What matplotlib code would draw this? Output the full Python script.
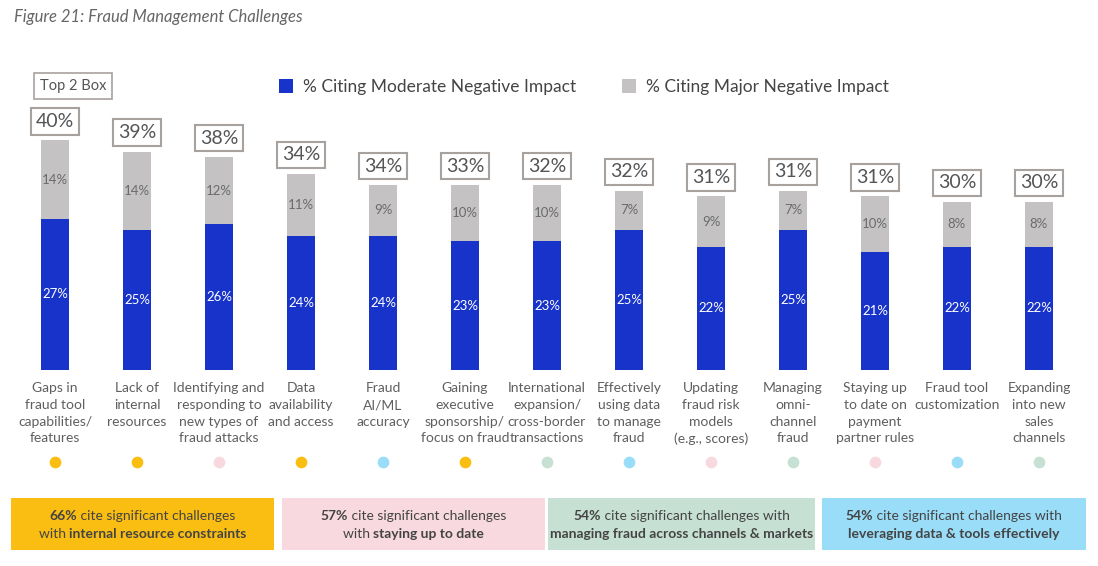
import matplotlib
matplotlib.use('Agg')
import matplotlib.pyplot as plt
from matplotlib.patches import Rectangle

plt.rcParams['font.family'] = ['Lato', 'DejaVu Sans']

# --- Data ---
categories = [
    'Gaps in\nfraud tool\ncapabilities/\nfeatures',
    'Lack of\ninternal\nresources',
    'Identifying and\nresponding to\nnew types of\nfraud attacks',
    'Data\navailability\nand access',
    'Fraud\nAI/ML\naccuracy',
    'Gaining\nexecutive\nsponsorship/\nfocus on fraud',
    'International\nexpansion/\ncross-border\ntransactions',
    'Effectively\nusing data\nto manage\nfraud',
    'Updating\nfraud risk\nmodels\n(e.g., scores)',
    'Managing\nomni-\nchannel\nfraud',
    'Staying up\nto date on\npayment\npartner rules',
    'Fraud tool\ncustomization',
    'Expanding\ninto new\nsales\nchannels',
]
moderate = [27, 25, 26, 24, 24, 23, 23, 25, 22, 25, 21, 22, 22]
major = [14, 14, 12, 11, 9, 10, 10, 7, 9, 7, 10, 8, 8]
top2 = [40, 39, 38, 34, 34, 33, 32, 32, 31, 31, 31, 30, 30]
theme = ['resource', 'resource', 'date', 'resource', 'data', 'resource', 'channel',
         'data', 'date', 'channel', 'date', 'data', 'channel']

theme_colors = {'resource': '#FABD12', 'date': '#F7D9DF', 'channel': '#C6E0D3', 'data': '#9ADDF8'}
summary = [
    ('resource', [[('66%', True), (' cite significant challenges', False)],
                  [('with ', False), ('internal resource constraints', True)]]),
    ('date', [[('57%', True), (' cite significant challenges', False)],
              [('with ', False), ('staying up to date', True)]]),
    ('channel', [[('54%', True), (' cite significant challenges with', False)],
                 [('managing fraud across channels & markets', True)]]),
    ('data', [[('54%', True), (' cite significant challenges with', False)],
              [('leveraging data & tools effectively', True)]]),
]

BLUE = '#1733C9'
GREY = '#C4C2C2'
TXT = '#5f5f5f'

W, H = 1098, 566
fig = plt.figure(figsize=(W / 100, H / 100), dpi=100)
ax = fig.add_axes([14 / W, 1 - 370 / H, 1066 / W, 252 / H])

x = list(range(len(categories)))
bw = 0.33
ax.bar(x, moderate, width=bw, color=BLUE, label='% Citing Moderate Negative Impact')
ax.bar(x, major, width=bw, bottom=moderate, color=GREY, label='% Citing Major Negative Impact')

for i in x:
    ax.text(i, moderate[i] / 2, f'{moderate[i]}%', ha='center', va='center',
            color='white', fontsize=9.5)
    ax.text(i, moderate[i] + major[i] / 2, f'{major[i]}%', ha='center', va='center',
            color='#6b6b6b', fontsize=9.5)
    ax.annotate(f'{top2[i]}%', xy=(i, moderate[i] + major[i]), xytext=(0, 19),
                textcoords='offset pixels', ha='center', va='center',
                fontsize=14, color='#555555',
                bbox=dict(boxstyle='square,pad=0.24', fc='white', ec='#A8A29E', lw=1.5))
    # theme dot under each category
    ax.scatter(i, -92 / 5.6, s=55, color=theme_colors[theme[i]], clip_on=False, zorder=3)

ax.set_xlim(-0.5, len(categories) - 0.5)
ax.set_ylim(0, 45)
ax.set_xticks(x)
ax.set_xticklabels(categories, fontsize=10, color=TXT, linespacing=1.45)
ax.tick_params(axis='x', length=0, pad=9)
ax.set_yticks([])
for s in ax.spines.values():
    s.set_visible(False)

# legend
fig.legend(loc='center', bbox_to_anchor=(584 / W, 1 - 87 / H), ncol=2, frameon=False,
           fontsize=12.5, handlelength=0.8, handleheight=0.8, columnspacing=2.6,
           handletextpad=0.6, labelcolor='#444444')

fig.text(73 / W, 1 - 86 / H, 'Top 2 Box', ha='center', va='center', fontsize=10.5, color='#555555',
         bbox=dict(boxstyle='square,pad=0.4', fc='white', ec='#A8A29E', lw=1.2))

fig.text(14 / W, 1 - 17 / H, 'Figure 21: Fraud Management Challenges', ha='left', va='center',
         fontsize=12, style='italic', color='#666666')

# summary boxes
box_x = [(11, 274), (282, 545), (548, 815), (822, 1086)]
renderer = fig.canvas.get_renderer()
for (x0, x1), (key, lines) in zip(box_x, summary):
    fig.patches.append(Rectangle((x0 / W, 1 - 550 / H), (x1 - x0) / W, 52 / H,
                                 transform=fig.transFigure, fc=theme_colors[key], ec='none'))
    cx = (x0 + x1) / 2
    for li, parts in enumerate(lines):
        yy = 1 - (516 + li * 18) / H
        texts = []
        for s, bold in parts:
            t = fig.text(0, yy, s, ha='left', va='center', fontsize=10, color='#444444',
                         weight='bold' if bold else 'normal')
            texts.append(t)
        widths = [t.get_window_extent(renderer).width for t in texts]
        start = cx - sum(widths) / 2
        for t, w in zip(texts, widths):
            t.set_x(start / W)
            start += w

fig.savefig('out.png', dpi=100)
